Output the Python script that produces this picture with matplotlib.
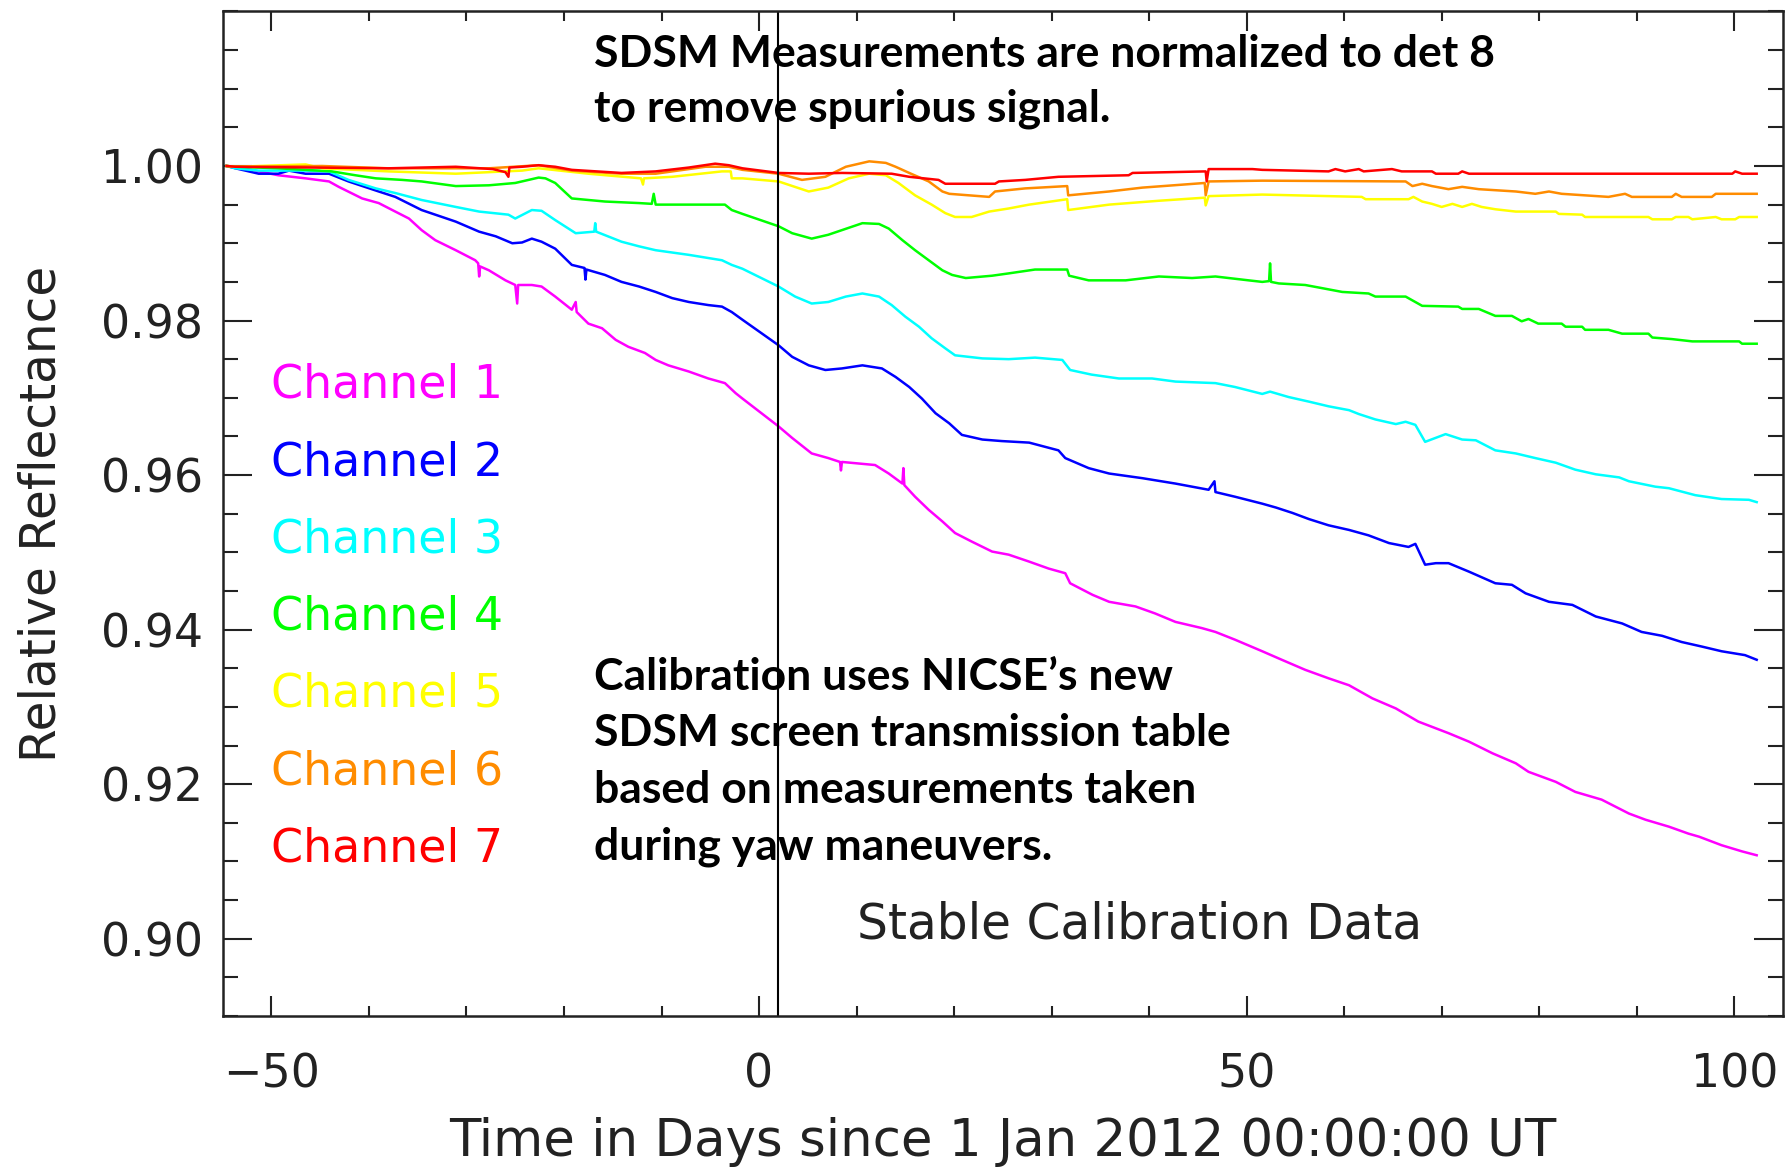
import numpy as np
import matplotlib.pyplot as plt
from matplotlib.ticker import MultipleLocator, FormatStrFormatter

# days since 1 Jan 2012, relative reflectance
ch1_days = [-54.6, -53.7, -49.3, -46.5, -44.1, -43.1, -40.7, -39.0, -37.3, -35.9, -34.6, -33.2,
            -31.1, -29.1, -28.8, -28.7, -28.6, -27.7, -26.0, -25.0, -24.8, -24.7, -23.3, -22.3,
            -20.9, -19.2, -18.8, -18.7, -17.5, -16.1, -14.7, -13.4, -11.7, -10.6, -9.3, -7.2,
            -5.2, -3.5, -2.4, -1.7, 2.0, 3.4, 5.4, 7.1, 8.3, 8.4, 8.5, 11.9, 13.3, 14.7, 14.8,
            14.9, 16.0, 17.4, 18.8, 20.1, 21.8, 23.9, 25.6, 27.7, 29.7, 31.4, 31.9, 34.2, 35.9,
            38.6, 40.6, 42.7, 45.4, 46.8, 48.8, 51.6, 53.6, 56.0, 58.4, 60.5, 62.9, 65.3, 67.6,
            70.7, 72.8, 75.2, 77.6, 78.9, 81.7, 83.7, 86.4, 89.2, 90.9, 93.3, 95.3, 96.4, 98.7,
            100.8, 102.3]
ch1_vals = [1.0000, 0.9999, 0.9988, 0.9984, 0.9980, 0.9973, 0.9958, 0.9952, 0.9941, 0.9932, 0.9917, 0.9904,
            0.9891, 0.9878, 0.9874, 0.9857, 0.9870, 0.9865, 0.9852, 0.9846, 0.9822, 0.9846, 0.9846, 0.9844,
            0.9831, 0.9814, 0.9824, 0.9811, 0.9796, 0.9790, 0.9775, 0.9766, 0.9758, 0.9749, 0.9742, 0.9734,
            0.9725, 0.9719, 0.9706, 0.9699, 0.9663, 0.9648, 0.9628, 0.9622, 0.9617, 0.9606, 0.9617, 0.9613,
            0.9602, 0.9589, 0.9609, 0.9587, 0.9572, 0.9555, 0.9540, 0.9525, 0.9514, 0.9501, 0.9497, 0.9488,
            0.9479, 0.9473, 0.9460, 0.9445, 0.9436, 0.9430, 0.9421, 0.9410, 0.9402, 0.9397, 0.9387, 0.9372,
            0.9361, 0.9348, 0.9337, 0.9328, 0.9311, 0.9298, 0.9281, 0.9266, 0.9255, 0.9240, 0.9227, 0.9216,
            0.9203, 0.9190, 0.9180, 0.9162, 0.9154, 0.9145, 0.9136, 0.9132, 0.9121, 0.9113, 0.9108]

ch2_days = [-54.6, -53.7, -51.3, -49.3, -48.2, -46.5, -44.1, -42.1, -39.0, -37.3, -34.6, -33.2,
            -31.1, -28.7, -27.0, -25.3, -24.3, -23.3, -22.3, -20.9, -19.2, -17.9, -17.8, -17.7,
            -15.8, -14.1, -12.3, -10.6, -8.9, -7.2, -5.2, -3.8, -2.8, -1.7, 2.0, 3.4, 5.1, 6.8,
            8.5, 10.6, 12.6, 14.0, 15.4, 16.7, 18.1, 19.5, 20.8, 22.9, 24.9, 27.7, 30.7, 31.4,
            33.8, 35.9, 39.3, 42.7, 46.1, 46.7, 46.8, 48.8, 51.6, 53.0, 54.7, 56.4, 58.4, 60.5,
            62.5, 64.6, 66.6, 67.3, 68.3, 69.4, 70.7, 72.8, 75.5, 77.2, 78.6, 81.0, 83.4, 85.8,
            88.5, 90.5, 92.6, 94.6, 96.7, 98.7, 101.1, 102.3]
ch2_vals = [1.0000, 0.9997, 0.9990, 0.9990, 0.9994, 0.9990, 0.9990, 0.9980, 0.9967, 0.9960, 0.9943, 0.9937,
            0.9928, 0.9915, 0.9909, 0.9900, 0.9901, 0.9906, 0.9902, 0.9893, 0.9872, 0.9868, 0.9853, 0.9866,
            0.9859, 0.9850, 0.9844, 0.9837, 0.9829, 0.9824, 0.9820, 0.9818, 0.9811, 0.9801, 0.9768, 0.9753,
            0.9742, 0.9736, 0.9738, 0.9742, 0.9738, 0.9727, 0.9714, 0.9699, 0.9680, 0.9667, 0.9652, 0.9646,
            0.9644, 0.9642, 0.9632, 0.9622, 0.9609, 0.9602, 0.9596, 0.9589, 0.9581, 0.9592, 0.9578, 0.9572,
            0.9563, 0.9558, 0.9551, 0.9543, 0.9535, 0.9529, 0.9522, 0.9512, 0.9507, 0.9511, 0.9484, 0.9486,
            0.9486, 0.9475, 0.9460, 0.9458, 0.9447, 0.9436, 0.9432, 0.9417, 0.9408, 0.9397, 0.9392, 0.9384,
            0.9378, 0.9372, 0.9367, 0.9361]

ch3_days = [-54.6, -53.7, -51.3, -46.5, -44.1, -42.1, -39.3, -37.3, -34.6, -31.1, -28.7, -25.7,
            -25.0, -23.3, -22.3, -20.9, -18.8, -16.9, -16.8, -16.7, -14.1, -12.3, -10.6, -7.2,
            -3.8, -2.8, -1.7, 2.0, 3.7, 5.4, 7.1, 8.9, 10.6, 12.3, 13.6, 15.0, 16.4, 17.7, 19.1,
            20.1, 22.9, 25.6, 28.3, 31.1, 31.9, 34.1, 36.9, 40.3, 42.7, 46.8, 48.8, 51.6, 52.4,
            54.3, 56.4, 58.4, 60.5, 61.5, 63.2, 65.3, 66.3, 67.3, 68.3, 70.4, 72.1, 73.5, 75.5,
            77.6, 79.6, 81.7, 83.7, 85.8, 88.2, 89.2, 91.9, 93.3, 96.0, 98.7, 101.5, 102.3]
ch3_vals = [1.0000, 0.9997, 0.9994, 0.9994, 0.9993, 0.9982, 0.9971, 0.9965, 0.9956, 0.9947, 0.9941, 0.9937,
            0.9932, 0.9943, 0.9942, 0.9930, 0.9913, 0.9915, 0.9926, 0.9915, 0.9902, 0.9896, 0.9891, 0.9885,
            0.9878, 0.9872, 0.9867, 0.9844, 0.9831, 0.9822, 0.9824, 0.9831, 0.9835, 0.9831, 0.9820, 0.9805,
            0.9792, 0.9777, 0.9764, 0.9755, 0.9751, 0.9750, 0.9752, 0.9749, 0.9736, 0.9730, 0.9725, 0.9725,
            0.9721, 0.9719, 0.9714, 0.9705, 0.9708, 0.9701, 0.9695, 0.9689, 0.9684, 0.9679, 0.9672, 0.9666,
            0.9669, 0.9665, 0.9643, 0.9653, 0.9646, 0.9645, 0.9632, 0.9628, 0.9622, 0.9616, 0.9607, 0.9601,
            0.9597, 0.9592, 0.9585, 0.9583, 0.9574, 0.9569, 0.9568, 0.9565]

ch4_days = [-54.6, -53.7, -49.3, -43.8, -41.4, -39.3, -36.6, -34.6, -31.1, -27.7, -25.0, -22.6,
            -21.9, -20.9, -19.2, -15.8, -12.3, -11.0, -10.8, -10.6, -3.5, -2.8, -1.7, 2.0, 3.4,
            5.4, 7.1, 8.5, 10.6, 12.3, 13.3, 14.7, 16.0, 17.4, 18.8, 19.8, 21.2, 23.9, 25.6, 28.3,
            31.6, 31.8, 33.8, 37.6, 41.0, 44.4, 46.8, 50.2, 51.6, 52.3, 52.4, 52.5, 53.3, 56.0,
            57.7, 59.8, 62.5, 63.2, 66.3, 68.0, 71.7, 72.1, 73.8, 75.5, 77.2, 78.2, 78.9, 79.9,
            82.3, 82.7, 84.4, 84.7, 87.1, 88.5, 91.2, 91.6, 93.6, 95.7, 100.5, 100.8, 102.3]
ch4_vals = [1.0000, 0.9999, 0.9997, 0.9993, 0.9988, 0.9984, 0.9982, 0.9980, 0.9974, 0.9975, 0.9978, 0.9985,
            0.9984, 0.9978, 0.9958, 0.9954, 0.9952, 0.9951, 0.9964, 0.9950, 0.9950, 0.9943, 0.9938, 0.9922,
            0.9913, 0.9906, 0.9911, 0.9917, 0.9926, 0.9925, 0.9919, 0.9904, 0.9891, 0.9878, 0.9865, 0.9859,
            0.9855, 0.9858, 0.9861, 0.9866, 0.9866, 0.9858, 0.9852, 0.9852, 0.9857, 0.9855, 0.9857, 0.9852,
            0.9850, 0.9851, 0.9874, 0.9850, 0.9848, 0.9846, 0.9842, 0.9837, 0.9835, 0.9831, 0.9831, 0.9819,
            0.9818, 0.9815, 0.9815, 0.9806, 0.9806, 0.9799, 0.9802, 0.9796, 0.9796, 0.9792, 0.9792, 0.9788,
            0.9788, 0.9783, 0.9783, 0.9778, 0.9776, 0.9773, 0.9773, 0.9770, 0.9770]

ch5_days = [-54.6, -53.7, -46.5, -44.8, -38.0, -31.1, -24.3, -22.6, -17.5, -12.1, -11.9, -11.8,
            -8.9, -3.8, -2.9, -2.8, -1.7, 2.0, 5.1, 7.1, 9.2, 11.3, 13.0, 14.3, 16.0, 17.7, 19.1,
            20.1, 21.8, 23.6, 25.6, 27.7, 31.6, 31.7, 35.9, 41.0, 45.7, 45.8, 46.1, 51.6, 61.8,
            62.2, 66.6, 67.1, 68.0, 69.0, 70.0, 71.1, 72.1, 73.1, 74.1, 75.5, 77.6, 81.7, 82.0,
            84.4, 84.7, 91.2, 91.6, 93.6, 94.0, 95.3, 95.7, 98.1, 98.7, 100.1, 100.5, 102.3]
ch5_vals = [1.0000, 0.9999, 1.0002, 0.9997, 0.9993, 0.9990, 0.9994, 0.9997, 0.9990, 0.9984, 0.9976, 0.9984,
            0.9986, 0.9993, 0.9993, 0.9984, 0.9984, 0.9980, 0.9967, 0.9972, 0.9984, 0.9990, 0.9988, 0.9978,
            0.9962, 0.9950, 0.9939, 0.9934, 0.9934, 0.9941, 0.9945, 0.9950, 0.9957, 0.9943, 0.9950, 0.9955,
            0.9959, 0.9949, 0.9961, 0.9963, 0.9960, 0.9957, 0.9957, 0.9960, 0.9954, 0.9951, 0.9947, 0.9951,
            0.9947, 0.9951, 0.9947, 0.9944, 0.9941, 0.9941, 0.9938, 0.9937, 0.9934, 0.9934, 0.9931, 0.9931,
            0.9934, 0.9934, 0.9931, 0.9934, 0.9931, 0.9931, 0.9934, 0.9934]

ch6_days = [-54.6, -53.7, -44.8, -38.0, -27.7, -22.6, -19.2, -14.1, -10.6, -5.5, -3.1, -1.7,
            2.0, 4.4, 6.8, 8.9, 11.3, 13.0, 14.0, 15.4, 17.4, 18.8, 19.5, 23.6, 24.2, 27.3, 31.6,
            31.7, 35.9, 39.3, 45.7, 45.8, 46.1, 51.6, 66.3, 67.0, 68.0, 69.0, 70.7, 72.1, 73.8,
            77.6, 79.6, 81.0, 82.3, 87.1, 88.8, 89.5, 93.6, 94.0, 94.6, 97.7, 98.1, 102.3]
ch6_vals = [1.0000, 0.9999, 1.0000, 0.9997, 0.9997, 1.0001, 0.9994, 0.9990, 0.9990, 0.9999, 0.9999, 0.9995,
            0.9990, 0.9982, 0.9986, 0.9999, 1.0006, 1.0004, 0.9999, 0.9991, 0.9980, 0.9967, 0.9964, 0.9960,
            0.9967, 0.9971, 0.9974, 0.9962, 0.9967, 0.9972, 0.9978, 0.9962, 0.9980, 0.9981, 0.9980, 0.9974,
            0.9977, 0.9974, 0.9970, 0.9973, 0.9970, 0.9967, 0.9964, 0.9967, 0.9964, 0.9960, 0.9964, 0.9960,
            0.9960, 0.9964, 0.9960, 0.9960, 0.9964, 0.9964]

ch7_days = [-54.6, -53.7, -38.0, -31.1, -27.3, -26.0, -25.7, -25.6, -24.3, -22.6, -20.9, -19.2,
            -14.1, -10.6, -7.2, -4.5, -3.1, -1.7, 2.0, 5.1, 8.5, 13.6, 15.4, 18.4, 19.1, 24.2,
            24.6, 27.3, 30.7, 37.9, 38.3, 45.8, 45.9, 46.1, 50.6, 51.6, 58.4, 59.1, 60.1, 61.5,
            62.0, 64.9, 65.9, 69.0, 69.4, 71.7, 72.1, 72.8, 99.8, 100.1, 100.8, 102.3]
ch7_vals = [1.0000, 0.9999, 0.9997, 0.9999, 0.9996, 0.9992, 0.9986, 0.9998, 0.9999, 1.0001, 0.9999, 0.9995,
            0.9991, 0.9993, 0.9998, 1.0003, 1.0001, 0.9997, 0.9991, 0.9990, 0.9991, 0.9990, 0.9986, 0.9982,
            0.9977, 0.9977, 0.9980, 0.9982, 0.9986, 0.9988, 0.9991, 0.9993, 0.9980, 0.9996, 0.9996, 0.9995,
            0.9993, 0.9996, 0.9993, 0.9996, 0.9993, 0.9996, 0.9993, 0.9993, 0.9990, 0.9990, 0.9993, 0.9990,
            0.9990, 0.9993, 0.9990, 0.9990]

channels = ['Channel 1', 'Channel 2', 'Channel 3', 'Channel 4', 'Channel 5', 'Channel 6', 'Channel 7']
colors = ['#ff00ff', '#0000ff', '#00ffff', '#00ff00', '#ffff00', '#ff8c00', '#ff0000']
all_days = [ch1_days, ch2_days, ch3_days, ch4_days, ch5_days, ch6_days, ch7_days]
all_vals = [ch1_vals, ch2_vals, ch3_vals, ch4_vals, ch5_vals, ch6_vals, ch7_vals]

fig = plt.figure(figsize=(17.9, 11.67), dpi=100)
ax = fig.add_axes([0.1244, 0.1294, 0.8717, 0.8608])

for d, v, c in zip(all_days, all_vals, colors):
    ax.plot(d, v, color=c, lw=1.8)

# start of stable calibration period
ax.axvline(1.9, color='black', lw=1.5)

ax.set_xlim(-55, 105)
ax.set_ylim(0.89, 1.02)
ax.set_xticks([-50, 0, 50, 100])
ax.set_yticks(np.arange(0.90, 1.001, 0.02))
ax.xaxis.set_minor_locator(MultipleLocator(10))
ax.yaxis.set_minor_locator(MultipleLocator(0.005))
ax.yaxis.set_major_formatter(FormatStrFormatter('%.2f'))

ax.tick_params(axis='both', which='both', direction='in', top=True, right=True,
               labelsize=33, width=1.5, colors='#222222')
ax.tick_params(axis='x', which='major', length=14.5, pad=26)
ax.tick_params(axis='x', which='minor', length=7.2)
ax.tick_params(axis='y', which='major', length=21, pad=14)
ax.tick_params(axis='y', which='minor', length=10.5)
for s in ax.spines.values():
    s.set_linewidth(1.8)
    s.set_color('#222222')

ax.set_xlabel('Time in Days since 1 Jan 2012 00:00:00 UT', fontsize=37, color='#222222', labelpad=14)
ax.set_ylabel('Relative Reflectance', fontsize=35, color='#222222')
ax.yaxis.set_label_coords(-0.101, 0.5)

for i, (name, c) in enumerate(zip(channels, colors)):
    ax.text(-50, 0.97 - 0.01 * i, name, color=c, fontsize=33, va='baseline')

ax.text(10, 0.90, 'Stable Calibration Data', fontsize=35, color='#222222', va='baseline')

# overlaid notes
note_font = dict(family='Lato', weight='bold', fontsize=32, color='black', va='baseline')
fig.text(0.3316, 1 - 66.7 / 1167, 'SDSM Measurements are normalized to det 8', **note_font)
fig.text(0.3316, 1 - 121.7 / 1167, 'to remove spurious signal.', **note_font)
fig.text(0.3316, 1 - 690 / 1167, 'Calibration uses NICSE\u2019s new', **note_font)
fig.text(0.3316, 1 - 746.5 / 1167, 'SDSM screen transmission table', **note_font)
fig.text(0.3316, 1 - 803 / 1167, 'based on measurements taken', **note_font)
fig.text(0.3316, 1 - 859.7 / 1167, 'during yaw maneuvers.', **note_font)

fig.savefig('out.png', dpi=100)
